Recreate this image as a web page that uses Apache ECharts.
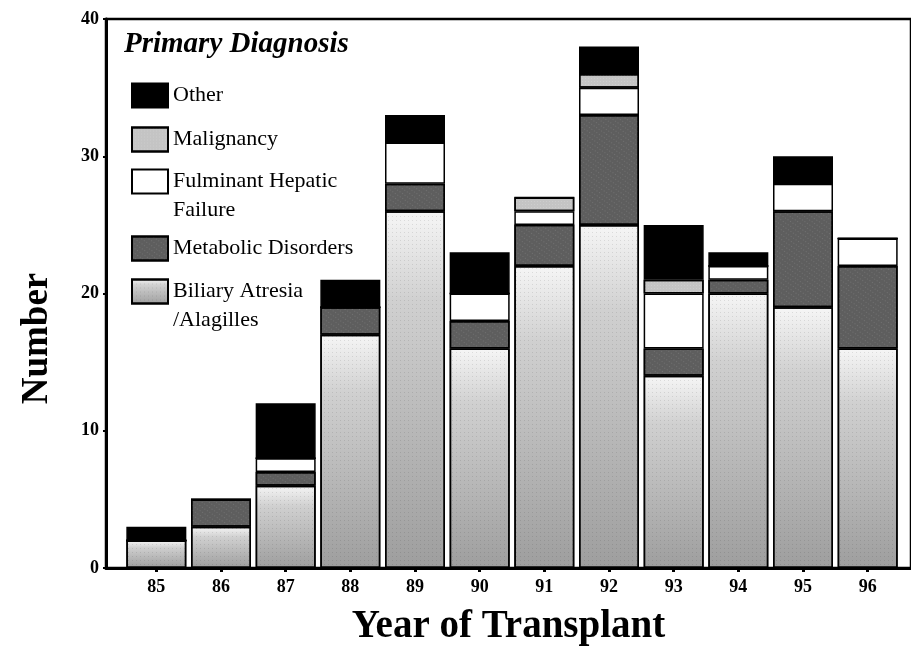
<!DOCTYPE html>
<html>
<head>
<meta charset="utf-8">
<script src="https://cdn.jsdelivr.net/npm/echarts@6/dist/echarts.min.js"></script>
<style>
  html, body { margin: 0; padding: 0; background: #fff; }
  #chart { width: 911px; height: 658px; }
</style>
</head>
<body>
<div id="chart"></div>
<script>
// 移植年份 (19xx) 和各诊断人数
const years = ['85', '86', '87', '88', '89', '90', '91', '92', '93', '94', '95', '96'];
const biliary = [2, 3, 6, 17, 26, 16, 22, 25, 14, 20, 19, 16];
const metabolic = [0, 2, 1, 2, 2, 2, 3, 8, 2, 1, 7, 6];
const fulminant = [0, 0, 1, 0, 3, 2, 1, 2, 4, 1, 2, 2];
const malignancy = [0, 0, 0, 0, 0, 0, 1, 1, 1, 0, 0, 0];
const other = [1, 0, 4, 2, 2, 3, 0, 2, 4, 1, 2, 0];

const serif = '"Liberation Serif", "DejaVu Serif", serif';

const baseBar = {
  type: 'bar',
  stack: 'total',
  barWidth: 60,
  xAxisIndex: 1,
  yAxisIndex: 1,
  silent: true
};

const chart = echarts.init(document.getElementById('chart'));

// 两行的图例: 前面加一个空行, 让第一行和色块对齐
const legendItems = [
  { name: 'Other', top: 81, twoLine: false },
  { name: 'Malignancy', top: 125, twoLine: false },
  { name: 'Fulminant Hepatic\nFailure', top: 138, twoLine: true },
  { name: 'Metabolic Disorders', top: 234, twoLine: false },
  { name: 'Biliary Atresia\n/Alagilles', top: 248, twoLine: true }
];

const axisFont = { fontFamily: serif, fontSize: 18, fontWeight: 'bold', color: '#000' };

const option = {
  animation: false,
  title: {
    text: 'Primary Diagnosis',
    left: 124,
    top: 30,
    padding: 0,
    textStyle: { fontFamily: serif, fontSize: 29, fontWeight: 'bold', fontStyle: 'italic', color: '#000' }
  },
  legend: legendItems.map(l => ({
    data: [l.name],
    top: l.top,
    left: 131,
    orient: 'vertical',
    padding: 0,
    icon: 'rect',
    itemWidth: 36,
    itemHeight: 24,
    selectedMode: false,
    formatter: name => (l.twoLine ? '\n' + name : name),
    textStyle: { fontFamily: serif, fontSize: 22, color: '#000', lineHeight: 29 }
  })),
  // grid 0: 外框和坐标轴; grid 1: 柱子
  grid: [
    {
      left: 106, right: -2, top: 19, bottom: 90,
      show: true, borderColor: '#000', borderWidth: 2.5, backgroundColor: 'transparent'
    },
    { left: 124, right: 11, top: 19, bottom: 90 }
  ],
  xAxis: [
    {
      gridIndex: 0,
      type: 'value',
      min: 0,
      max: 1,
      name: 'Year of Transplant',
      nameLocation: 'middle',
      nameGap: 39,
      nameTextStyle: { fontFamily: serif, fontSize: 39, fontWeight: 'bold', color: '#000' },
      splitLine: { show: false },
      axisLine: { show: true, lineStyle: { color: '#000', width: 3 } },
      axisTick: { show: false },
      axisLabel: { show: false }
    },
    {
      gridIndex: 1,
      type: 'category',
      data: years,
      axisLine: { show: false },
      axisTick: { show: true, alignWithLabel: true, length: 4, lineStyle: { color: '#000', width: 3 } },
      axisLabel: Object.assign({ margin: 10 }, axisFont)
    }
  ],
  yAxis: [
    {
      gridIndex: 0,
      type: 'value',
      min: 0,
      max: 40,
      interval: 10,
      name: 'Number',
      nameLocation: 'middle',
      nameRotate: 90,
      nameGap: 50,
      nameTextStyle: { fontFamily: serif, fontSize: 37, fontWeight: 'bold', color: '#000', padding: [0, 90, 0, 0] },
      splitLine: { show: false },
      axisLine: { show: true, lineStyle: { color: '#000', width: 3 } },
      axisTick: { show: true, length: 3, lineStyle: { color: '#000', width: 2 } },
      axisLabel: Object.assign({ margin: 7 }, axisFont)
    },
    {
      gridIndex: 1,
      type: 'value',
      min: 0,
      max: 40,
      show: false
    }
  ],
  series: [
    Object.assign({}, baseBar, {
      name: 'Biliary Atresia\n/Alagilles',
      data: biliary,
      itemStyle: {
        color: new echarts.graphic.LinearGradient(0, 0, 0, 1, [
          { offset: 0, color: '#f6f6f6' },
          { offset: 0.25, color: '#d0d0d0' },
          { offset: 1, color: '#9e9e9e' }
        ]),
        borderColor: '#000',
        borderWidth: 1.5,
        decal: { symbol: 'circle', symbolSize: 0.6, color: 'rgba(0,0,0,0.45)', dashArrayX: [1, 3], dashArrayY: [1, 3] }
      }
    }),
    Object.assign({}, baseBar, {
      name: 'Metabolic Disorders',
      data: metabolic,
      itemStyle: {
        color: '#5e5e5e',
        borderColor: '#000',
        borderWidth: 1.5,
        decal: { symbol: 'rect', symbolSize: 0.7, color: 'rgba(255,255,255,0.35)', dashArrayX: [1, 2], dashArrayY: [1, 3], rotation: 0.6 }
      }
    }),
    Object.assign({}, baseBar, {
      name: 'Fulminant Hepatic\nFailure',
      data: fulminant,
      itemStyle: { color: '#ffffff', borderColor: '#000', borderWidth: 1.5 }
    }),
    Object.assign({}, baseBar, {
      name: 'Malignancy',
      data: malignancy,
      itemStyle: {
        color: '#c4c4c4',
        borderColor: '#000',
        borderWidth: 1.5,
        decal: { symbol: 'rect', symbolSize: 0.6, color: 'rgba(255,255,255,0.5)', dashArrayX: [1, 2], dashArrayY: [1, 2] }
      }
    }),
    Object.assign({}, baseBar, {
      name: 'Other',
      data: other,
      itemStyle: { color: '#000000', borderColor: '#000', borderWidth: 1.5 }
    })
  ]
};

chart.setOption(option);
</script>
</body>
</html>
